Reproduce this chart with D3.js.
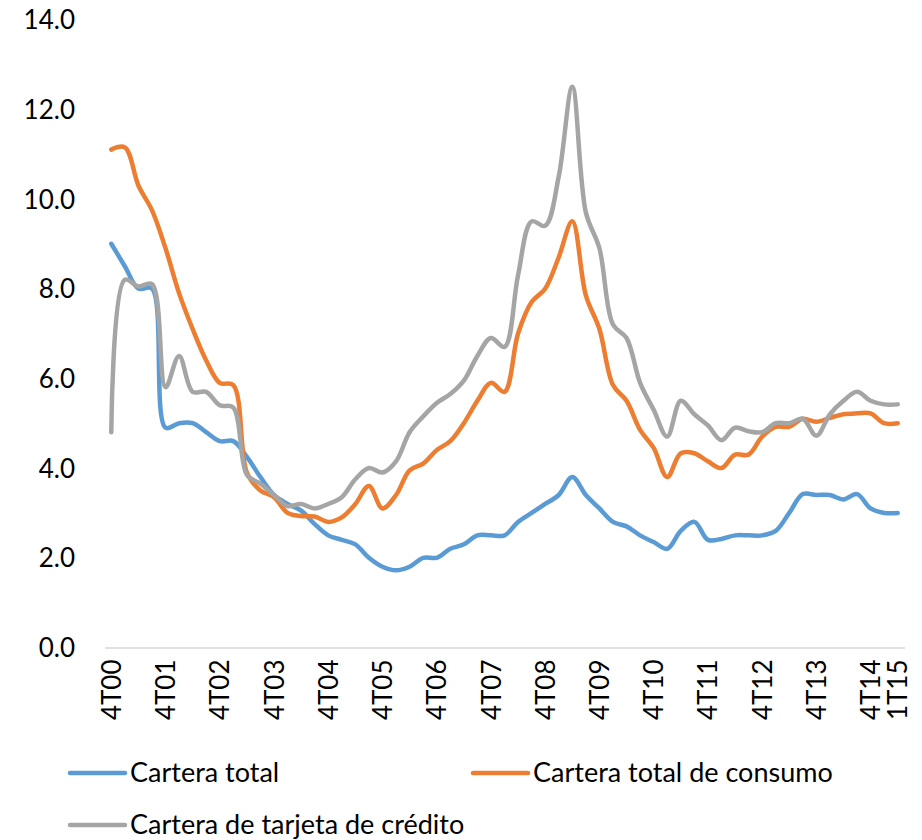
<!DOCTYPE html>
<html>
<head>
<meta charset="utf-8">
<script src="https://cdn.jsdelivr.net/npm/d3@7"></script>
<style>
  body { margin: 0; background: #fff; }
  text { font-family: Lato, "Open Sans", sans-serif; fill: #000; }
</style>
</head>
<body>
<script>
  // quarterly series, 4T00 .. 1T15 (59 points)
  var carteraTotal = [9.0, 8.5, 8.0, 8.0, 4.9, 5.0, 5.0, 4.8, 4.6, 4.6,
    4.25, 3.8, 3.4, 3.2, 3.05, 2.75, 2.5, 2.4, 2.3, 2.0,
    1.8, 1.72, 1.8, 2.0, 2.0, 2.2, 2.3, 2.5, 2.5, 2.5,
    2.8, 3.0, 3.2, 3.4, 3.8, 3.4, 3.1, 2.8, 2.7, 2.5,
    2.35, 2.2, 2.6, 2.8, 2.4, 2.42, 2.5, 2.5, 2.5, 2.6,
    3.0, 3.42, 3.4, 3.4, 3.3, 3.42, 3.1, 3.0, 3.0];

  var carteraConsumo = [11.1, 11.15, 10.3, 9.75, 8.9, 7.9, 7.1, 6.4, 5.9, 5.85,
    3.9, 3.5, 3.35, 3.0, 2.93, 2.92, 2.8, 2.9, 3.2, 3.6,
    3.1, 3.4, 3.95, 4.1, 4.4, 4.6, 5.0, 5.5, 5.9, 5.7,
    7.0, 7.7, 8.0, 8.7, 9.5, 7.85, 7.1, 5.85, 5.5, 4.85,
    4.45, 3.8, 4.33, 4.33, 4.15, 4.0, 4.3, 4.3, 4.7, 4.92,
    4.92, 5.1, 5.03, 5.12, 5.2, 5.22, 5.22, 5.0, 5.0];

  var carteraTarjeta = [4.8, 8.2, 8.05, 8.1, 5.8, 6.5, 5.7, 5.7, 5.4, 5.35,
    3.85, 3.65, 3.4, 3.15, 3.2, 3.1, 3.2, 3.35, 3.75, 4.0,
    3.9, 4.15, 4.8, 5.15, 5.45, 5.65, 5.95, 6.5, 6.9, 6.7,
    8.3, 9.5, 9.4, 10.5, 12.5, 9.7, 8.9, 7.2, 6.9, 5.9,
    5.3, 4.7, 5.5, 5.2, 4.95, 4.62, 4.9, 4.82, 4.8, 5.0,
    5.0, 5.1, 4.72, 5.2, 5.5, 5.7, 5.5, 5.42, 5.42];

  var axisLabels = ["4T00", "4T01", "4T02", "4T03", "4T04", "4T05", "4T06", "4T07",
    "4T08", "4T09", "4T10", "4T11", "4T12", "4T13", "4T14", "1T15"];
  var axisLabelIdx = [0, 4, 8, 12, 16, 20, 24, 28, 32, 36, 40, 44, 48, 52, 56, 58];

  var seriesNames = ["Cartera total", "Cartera total de consumo", "Cartera de tarjeta de crédito"];
  var yTicks = [0, 2, 4, 6, 8, 10, 12, 14];

  var width = 922, height = 840;
  var colors = ["#5B9BD5", "#ED7D31", "#A5A5A5"];

  var svg = d3.select("body").append("svg")
    .attr("width", width)
    .attr("height", height);

  var x = d3.scalePoint()
    .domain(d3.range(carteraTotal.length))
    .range([104.5, 904.5])
    .padding(0.5);

  var y = d3.scaleLinear()
    .domain([0, 14])
    .range([647.5, 19.5]);

  // y axis (labels only)
  svg.append("g")
    .attr("transform", "translate(75,0)")
    .call(d3.axisLeft(y).tickValues(yTicks).tickSize(0).tickPadding(0).tickFormat(d3.format(".1f")))
    .call(function(g) { g.select(".domain").remove(); })
    .selectAll("text")
      .style("font-size", "26px")
      .attr("dy", "0.35em");

  // x axis
  var xAxis = svg.append("g")
    .attr("transform", "translate(0,647.5)")
    .call(d3.axisBottom(x).tickValues(axisLabelIdx).tickSize(0)
      .tickFormat(function(d, i) { return axisLabels[i]; }));

  xAxis.select(".domain")
    .attr("stroke", "#D9D9D9")
    .attr("stroke-width", 1.5);

  xAxis.selectAll("text")
    .attr("transform", "rotate(-90)")
    .attr("x", -12)
    .attr("y", 0)
    .attr("dy", "0.35em")
    .style("text-anchor", "end")
    .style("font-size", "26px");

  var line = d3.line()
    .x(function(d, i) { return x(i); })
    .y(function(d) { return y(d); })
    .curve(d3.curveCatmullRom.alpha(0.5));

  var allSeries = [carteraTotal, carteraConsumo, carteraTarjeta];

  svg.selectAll(".serie")
    .data(allSeries)
    .enter().append("path")
    .attr("class", "serie")
    .attr("d", line)
    .attr("fill", "none")
    .attr("stroke", function(d, i) { return colors[i]; })
    .attr("stroke-width", 4.5)
    .attr("stroke-linecap", "round")
    .attr("stroke-linejoin", "round");

  // legend
  var legendPos = [[70, 773], [473, 773], [70, 825]];

  var lg = svg.selectAll(".legend")
    .data(seriesNames)
    .enter().append("g")
    .attr("class", "legend")
    .attr("transform", function(d, i) { return "translate(" + legendPos[i][0] + "," + legendPos[i][1] + ")"; });

  lg.append("line")
    .attr("x1", 0).attr("x2", 55)
    .attr("stroke", function(d, i) { return colors[i]; })
    .attr("stroke-width", 4.5)
    .attr("stroke-linecap", "round");

  lg.append("text")
    .attr("x", 60)
    .attr("dy", "0.35em")
    .style("font-size", "27px")
    .text(function(d) { return d; });
</script>
</body>
</html>
